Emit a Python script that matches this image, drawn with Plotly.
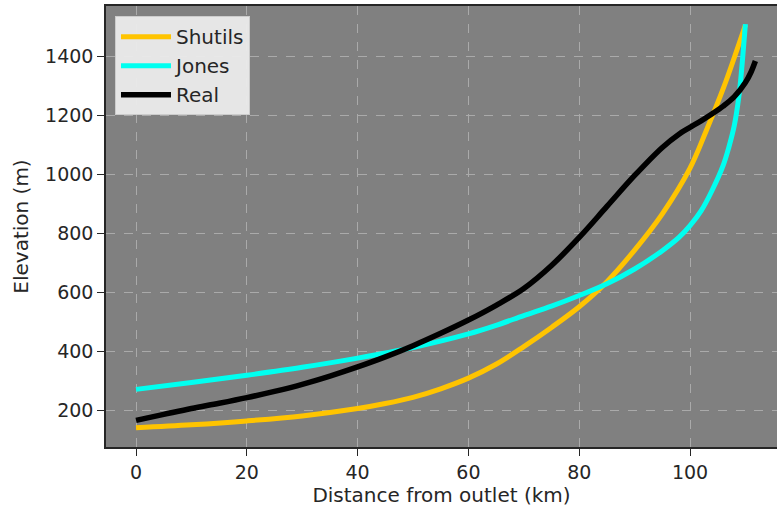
import plotly.graph_objects as go

# Data
shutils_x = [0, 10, 20, 30, 40, 45, 50, 55, 60, 65, 70, 75, 80, 85, 90, 95, 100, 103, 106, 108, 110]
shutils_y = [140, 150, 163, 180, 205, 222, 243, 272, 308, 355, 415, 480, 550, 635, 742, 865, 1020, 1150, 1290, 1395, 1505]

jones_x = [0, 10, 20, 30, 40, 50, 60, 65, 70, 75, 80, 85, 90, 95, 98, 100, 102, 104, 106, 107, 108, 108.8, 109.3, 109.7, 110]
jones_y = [270, 293, 318, 345, 376, 412, 458, 487, 520, 552, 588, 628, 678, 740, 785, 825, 875, 945, 1030, 1090, 1165, 1260, 1350, 1440, 1508]

real_x = [0, 5, 10, 15, 20, 25, 30, 35, 40, 45, 50, 55, 60, 65, 70, 75, 80, 85, 90, 95, 98, 100, 102, 104, 106, 108, 110, 111, 111.8]
real_y = [165, 185, 205, 223, 242, 263, 287, 315, 346, 380, 418, 460, 505, 555, 612, 690, 785, 890, 995, 1090, 1135, 1158, 1180, 1204, 1230, 1262, 1310, 1345, 1383]

x_ticks = [0, 20, 40, 60, 80, 100]
y_ticks = [200, 400, 600, 800, 1000, 1200, 1400]

FONT = "DejaVu Sans"
TXT = "#262626"

fig = go.Figure()
fig.add_trace(go.Scatter(x=shutils_x, y=shutils_y, mode="lines", name="Shutils",
                         line=dict(color="#FFC400", width=5, shape="spline", smoothing=1.0)))
fig.add_trace(go.Scatter(x=jones_x, y=jones_y, mode="lines", name="Jones",
                         line=dict(color="#00FFF0", width=5, shape="spline", smoothing=1.0)))
fig.add_trace(go.Scatter(x=real_x, y=real_y, mode="lines", name="Real",
                         line=dict(color="#000000", width=5.5, shape="spline", smoothing=1.0)))

fig.update_layout(
    width=777, height=510,
    margin=dict(l=106, r=0, t=6, b=63),
    paper_bgcolor="white",
    plot_bgcolor="#808080",
    font=dict(family=FONT, size=19, color=TXT),
    showlegend=True,
    legend=dict(
        x=0.0134, y=0.977, xanchor="left", yanchor="top",
        bgcolor="rgba(235,235,235,0.95)", bordercolor="#cccccc", borderwidth=1,
        font=dict(family=FONT, size=20, color=TXT),
        itemwidth=50, tracegroupgap=0,
    ),
)

fig.update_xaxes(
    range=[-5.42, 115.7],
    tickvals=x_ticks, ticktext=[str(v) for v in x_ticks],
    ticks="outside", ticklen=7, tickwidth=1.3, tickcolor=TXT,
    tickfont=dict(family=FONT, size=19, color=TXT),
    showline=True, linecolor=TXT, linewidth=1.5, mirror=True,
    showgrid=True, gridcolor="#aaaaaa", gridwidth=1, griddash="dash",
    zeroline=False,
    title=dict(text="Distance from outlet (km)", font=dict(family=FONT, size=20, color=TXT), standoff=4),
)
fig.update_yaxes(
    range=[74.6, 1569.5],
    tickvals=y_ticks, ticktext=[str(v) for v in y_ticks],
    ticks="outside", ticklen=7, tickwidth=1.3, tickcolor=TXT,
    tickfont=dict(family=FONT, size=19, color=TXT),
    showline=True, linecolor=TXT, linewidth=1.5, mirror=False,
    showgrid=True, gridcolor="#aaaaaa", gridwidth=1, griddash="dash",
    zeroline=False,
    title=dict(text="Elevation (m)", font=dict(family=FONT, size=20, color=TXT), standoff=11),
)

fig.write_html("out.html")
